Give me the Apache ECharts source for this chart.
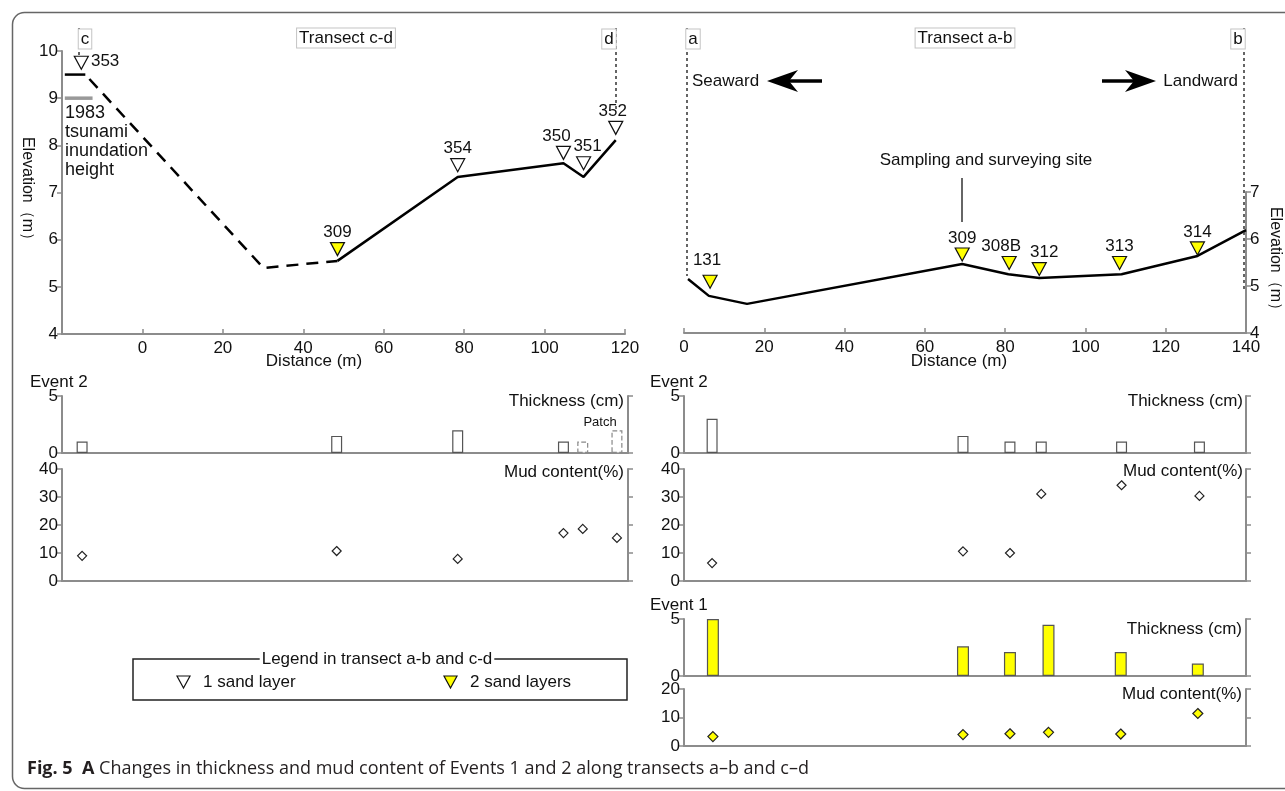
<!DOCTYPE html>
<html>
<head>
<meta charset="utf-8">
<title>Fig. 5</title>
<script src="https://cdn.jsdelivr.net/npm/echarts@6.0.0/dist/echarts.min.js"></script>
<style>
html, body { margin: 0; padding: 0; background: #fff; }
#main { width: 1285px; height: 791px; }
</style>
</head>
<body>
<div id="main"></div>
<script>
var chart = echarts.init(document.getElementById('main'), null, { renderer: 'canvas' });

// transect c-d profile (distance m, elevation m)
var cdProfile = [[48.5, 5.55], [78.4, 7.33], [104.7, 7.62], [109.7, 7.33], [117.7, 8.11]];
var cdInferred = [[-14.2, 9.5], [30.1, 5.4], [48.5, 5.55]];
var cdTop = [[-19.3, 9.5], [-14.2, 9.5]];
var tsunami1983 = [[-19.3, 9.0], [-12.4, 9.0]];
var cdSites = ['353', '309', '354', '350', '351', '352'];
var cdSiteDist = [-15.2, 48.5, 78.4, 104.7, 109.7, 117.7];
var cdSiteElev = [9.75, 5.8, 7.58, 7.84, 7.62, 8.37];
var cdLayers = [1, 2, 1, 1, 1, 1];

// transect a-b profile
var abProfile = [[1, 5.15], [6.2, 4.79], [15.7, 4.62], [69.3, 5.47], [80.8, 5.25], [88.5, 5.17], [109, 5.25], [127.9, 5.64], [140, 6.19]];
var abSites = ['131', '309', '308B', '312', '313', '314'];
var abSiteDist = [6.5, 69.3, 81, 88.5, 108.5, 127.9];
var abSiteElev = [5.09, 5.67, 5.49, 5.36, 5.49, 5.8];

// Event 2
var e2cdDist = [-15, 48.3, 78.4, 104.7, 109.5, 118];
var e2cdThick = [1, 1.5, 2, 1, 1, 2];
var e2cdPatch = [false, false, false, false, true, true];
var e2cdMud = [9, 10.7, 7.9, 17.1, 18.6, 15.4];
var e2abDist = [7, 69.5, 81.2, 89, 109, 128.4];
var e2abThick = [3, 1.5, 1, 1, 1, 1];
var e2abMud = [6.4, 10.6, 10, 31.1, 34.2, 30.4];

// Event 1
var e1abDist = [7.2, 69.5, 81.2, 90.8, 108.8, 128];
var e1abThick = [5, 2.6, 2.1, 4.5, 2.1, 1.1];
var e1abMud = [3.3, 4, 4.3, 4.8, 4.2, 11.4];

var cdTicks = [0, 20, 40, 60, 80, 100, 120];
var abTicks = [0, 20, 40, 60, 80, 100, 120, 140];

var FONT = '"Liberation Sans", Arial, sans-serif';
var GREY = '#8c8c8c';
var INK = '#111';
var YELLOW = '#ffff00';
var TRI = 'path://M0,0L12,0L6,11Z';

// label tweaks per site (style only)
var cdLabel = {
    '353': { position: 'right', distance: 2, offset: [0, -1] },
    '350': { offset: [-7, 0] },
    '351': { offset: [4, 0] },
    '352': { offset: [-3, 0] }
};
var abLabel = {
    '131': { offset: [-3, -5] },
    '308B': { offset: [-8, 0] },
    '312': { offset: [5, 0] }
};

function zip(xs, ys) {
    return xs.map(function (x, i) { return [x, ys[i]]; });
}

function siteItems(names, dists, elevs, tweaks, keep) {
    var out = [];
    for (var i = 0; i < names.length; i++) {
        if (!keep(i)) continue;
        out.push({ name: names[i], value: [dists[i], elevs[i]], label: tweaks[names[i]] || {} });
    }
    return out;
}

function distAxis(gi, min, max, ticks) {
    var ax = {
        type: 'value', gridIndex: gi, min: min, max: max,
        axisLine: { show: true, onZero: false, lineStyle: { color: GREY, width: 2 } },
        axisTick: { show: false },
        axisLabel: { show: false },
        splitLine: { show: false }
    };
    if (ticks) {
        ax.interval = 20;
        ax.axisTick = { show: true, inside: true, length: 5, customValues: ticks, lineStyle: { color: GREY, width: 1.5 } };
        ax.axisLabel = { show: true, customValues: ticks, margin: 6, fontSize: 17, color: INK, fontFamily: FONT };
    }
    return ax;
}

function valAxis(gi, pos, min, max, step, showLabels, extra) {
    return Object.assign({
        type: 'value', gridIndex: gi, position: pos, min: min, max: max, interval: step,
        axisLine: { show: true, onZero: false, lineStyle: { color: GREY, width: 2 } },
        axisTick: { show: true, length: 5, lineStyle: { color: GREY, width: 1.5 } },
        axisLabel: { show: showLabels, margin: 4, fontSize: 17, color: INK, fontFamily: FONT },
        splitLine: { show: false }
    }, extra || {});
}

function line(xi, yi, data, style, z) {
    return {
        type: 'line', xAxisIndex: xi, yAxisIndex: yi, data: data, symbol: 'none',
        silent: true, clip: false, z: z || 2, lineStyle: style
    };
}

function triSeries(name, xi, yi, data, fill) {
    return {
        type: 'scatter', name: name, xAxisIndex: xi, yAxisIndex: yi, data: data,
        symbol: TRI, symbolSize: [14, 13], clip: false, z: 5,
        itemStyle: { color: fill, borderColor: '#111', borderWidth: 1.2, opacity: 1 },
        label: { show: true, position: 'top', distance: 1, formatter: '{b}', fontSize: 17, color: INK, fontFamily: FONT }
    };
}

function barSeries(xi, yi, dists, vals, patch, fill, width) {
    return {
        type: 'bar', xAxisIndex: xi, yAxisIndex: yi, barWidth: width,
        data: dists.map(function (d, i) {
            var it = { value: [d, vals[i]] };
            if (patch && patch[i]) it.itemStyle = { borderType: 'dashed', borderColor: '#888' };
            return it;
        }),
        itemStyle: { color: fill, borderColor: '#555', borderWidth: 1.2 }
    };
}

function diamonds(xi, yi, dists, vals, fill, size) {
    return {
        type: 'scatter', xAxisIndex: xi, yAxisIndex: yi, data: zip(dists, vals),
        symbol: 'diamond', symbolSize: size,
        itemStyle: { color: fill, borderColor: '#222', borderWidth: 1.2, opacity: 1 }
    };
}

// graphic helpers
function txt(x, y, s, opt) {
    return {
        type: 'text', x: x, y: y, silent: true, z: 20,
        style: Object.assign({ text: s, fontFamily: FONT, fontSize: 17, fill: INK, align: 'left', verticalAlign: 'middle' }, opt || {})
    };
}
function boxTxt(x, y, s) {
    return txt(x, y, s, { align: 'center', backgroundColor: '#fff', borderColor: '#c4c4c4', borderWidth: 1, padding: [2, 2, 0, 2] });
}
function seg(x1, y1, x2, y2, style) {
    return { type: 'line', silent: true, z: 15, shape: { x1: x1, y1: y1, x2: x2, y2: y2 }, style: Object.assign({ stroke: '#333', lineWidth: 1.5 }, style || {}) };
}
function poly(pts, fill, stroke) {
    return { type: 'polygon', silent: true, z: 20, shape: { points: pts }, style: { fill: fill, stroke: stroke || null, lineWidth: 1.2 } };
}
var dotted = { lineDash: [3, 3], lineWidth: 1.5, stroke: '#333' };

var option = {
    animation: false,
    backgroundColor: '#fff',
    textStyle: { fontFamily: FONT },
    grid: [
        { left: 62, top: 51, width: 563, height: 283 },
        { left: 684, top: 192, width: 562, height: 141 },
        { left: 62, top: 396, width: 566, height: 57 },
        { left: 62, top: 469, width: 566, height: 112 },
        { left: 684, top: 396, width: 562, height: 57 },
        { left: 684, top: 469, width: 562, height: 112 },
        { left: 684, top: 619, width: 562, height: 57 },
        { left: 684, top: 689, width: 562, height: 57 }
    ],
    xAxis: [
        distAxis(0, -20, 120, cdTicks),
        distAxis(1, 0, 140, abTicks),
        distAxis(2, -20, 120.75),
        distAxis(3, -20, 120.75),
        distAxis(4, 0, 140),
        distAxis(5, 0, 140),
        distAxis(6, 0, 140),
        distAxis(7, 0, 140)
    ],
    yAxis: [
        valAxis(0, 'left', 4, 10, 1, true, {
            name: 'Elevation（m）', nameLocation: 'middle', nameRotate: -90, nameGap: 26,
            nameTextStyle: { fontSize: 16, color: INK, fontFamily: FONT }
        }),
        valAxis(1, 'right', 4, 7, 1, true, {
            name: 'Elevation（m）', nameLocation: 'middle', nameRotate: -90, nameGap: 21,
            nameTextStyle: { fontSize: 16, color: INK, fontFamily: FONT }
        }),
        valAxis(2, 'left', 0, 5, 5, true),
        valAxis(2, 'right', 0, 5, 5, false),
        valAxis(3, 'left', 0, 40, 10, true),
        valAxis(3, 'right', 0, 40, 10, false),
        valAxis(4, 'left', 0, 5, 5, true),
        valAxis(4, 'right', 0, 5, 5, false),
        valAxis(5, 'left', 0, 40, 10, true),
        valAxis(5, 'right', 0, 40, 10, false),
        valAxis(6, 'left', 0, 5, 5, true),
        valAxis(6, 'right', 0, 5, 5, false),
        valAxis(7, 'left', 0, 20, 10, true),
        valAxis(7, 'right', 0, 20, 10, false)
    ],
    series: [
        line(0, 0, cdInferred, { color: '#000', width: 2.5, type: [12, 8], dashOffset: -6 }),
        line(0, 0, cdProfile, { color: '#000', width: 2.5 }),
        line(0, 0, cdTop, { color: '#000', width: 2.5 }),
        line(0, 0, tsunami1983, { color: '#999', width: 3.5 }),
        triSeries('1 sand layer', 0, 0, siteItems(cdSites, cdSiteDist, cdSiteElev, cdLabel, function (i) { return cdLayers[i] === 1; }), '#fff'),
        triSeries('2 sand layers', 0, 0, siteItems(cdSites, cdSiteDist, cdSiteElev, cdLabel, function (i) { return cdLayers[i] === 2; }), YELLOW),
        line(1, 1, abProfile, { color: '#000', width: 2.5 }),
        triSeries('2 sand layers', 1, 1, siteItems(abSites, abSiteDist, abSiteElev, abLabel, function () { return true; }), YELLOW),

        barSeries(2, 2, e2cdDist, e2cdThick, e2cdPatch, '#fff', 11),
        diamonds(3, 4, e2cdDist, e2cdMud, '#fff', 9),
        barSeries(4, 6, e2abDist, e2abThick, null, '#fff', 11),
        diamonds(5, 8, e2abDist, e2abMud, '#fff', 9),
        barSeries(6, 10, e1abDist, e1abThick, null, YELLOW, 12),
        diamonds(7, 12, e1abDist, e1abMud, YELLOW, 10)
    ],
    graphic: [
        { type: 'rect', silent: true, z: 1, shape: { x: 12.5, y: 12.5, width: 1300, height: 776, r: 12 }, style: { fill: 'none', stroke: '#666', lineWidth: 1.5 } },

        // transect labels and end markers
        boxTxt(346, 38, 'Transect c-d'),
        boxTxt(965, 38, 'Transect a-b'),
        seg(79, 28, 79, 57, dotted), boxTxt(85, 39, 'c'),
        seg(616, 28, 616, 112, dotted), boxTxt(609, 39, 'd'),
        seg(687, 28, 687, 276, dotted), boxTxt(693, 39, 'a'),
        seg(1244, 28, 1244, 292, dotted), boxTxt(1238, 39, 'b'),

        // direction arrows
        txt(692, 81, 'Seaward'),
        seg(788, 81, 822, 81, { stroke: '#000', lineWidth: 3.5 }),
        poly([[767, 81], [798, 70], [789, 81], [798, 92]], '#000'),
        txt(1238, 81, 'Landward', { align: 'right' }),
        seg(1102, 81, 1136, 81, { stroke: '#000', lineWidth: 3.5 }),
        poly([[1156, 81], [1125, 70], [1134, 81], [1125, 92]], '#000'),

        txt(986, 160, 'Sampling and surveying site', { align: 'center' }),
        seg(962, 178, 962, 222, { stroke: '#333', lineWidth: 1.5 }),

        txt(65, 104, '1983\ntsunami\ninundation\nheight', { verticalAlign: 'top', fontSize: 18, lineHeight: 19 }),
        txt(314, 361, 'Distance (m)', { align: 'center' }),
        txt(959, 361, 'Distance (m)', { align: 'center' }),

        // lower panel labels
        txt(30, 382, 'Event 2'),
        txt(650, 382, 'Event 2'),
        txt(650, 605, 'Event 1'),
        txt(624, 401, 'Thickness (cm)', { align: 'right' }),
        txt(624, 472, 'Mud content(%)', { align: 'right' }),
        txt(600, 422, 'Patch', { align: 'center', fontSize: 13 }),
        txt(1243, 401, 'Thickness (cm)', { align: 'right' }),
        txt(1243, 471, 'Mud content(%)', { align: 'right' }),
        txt(1242, 629, 'Thickness (cm)', { align: 'right' }),
        txt(1242, 694, 'Mud content(%)', { align: 'right' }),

        // legend box
        { type: 'rect', silent: true, z: 15, shape: { x: 133, y: 659, width: 494, height: 41 }, style: { fill: 'none', stroke: '#222', lineWidth: 1.5 } },
        txt(377, 659, 'Legend in transect a-b and c-d', { align: 'center', backgroundColor: '#fff', padding: [0, 2] }),
        poly([[177, 676], [190, 676], [183.5, 688]], '#fff', '#111'),
        txt(203, 682, '1 sand layer'),
        poly([[444, 676], [457, 676], [450.5, 688]], YELLOW, '#111'),
        txt(470, 682, '2 sand layers'),

        // caption
        txt(27, 769, '{b|Fig. 5}  {b|A} Changes in thickness and mud content of Events 1 and 2 along transects a–b and c–d', {
            fontFamily: '"Open Sans", sans-serif', fontSize: 18, fill: '#231f20',
            rich: { b: { fontWeight: 'bold', fontFamily: '"Open Sans", sans-serif', fontSize: 18, fill: '#231f20' } }
        })
    ]
};
chart.setOption(option);
</script>
</body>
</html>
